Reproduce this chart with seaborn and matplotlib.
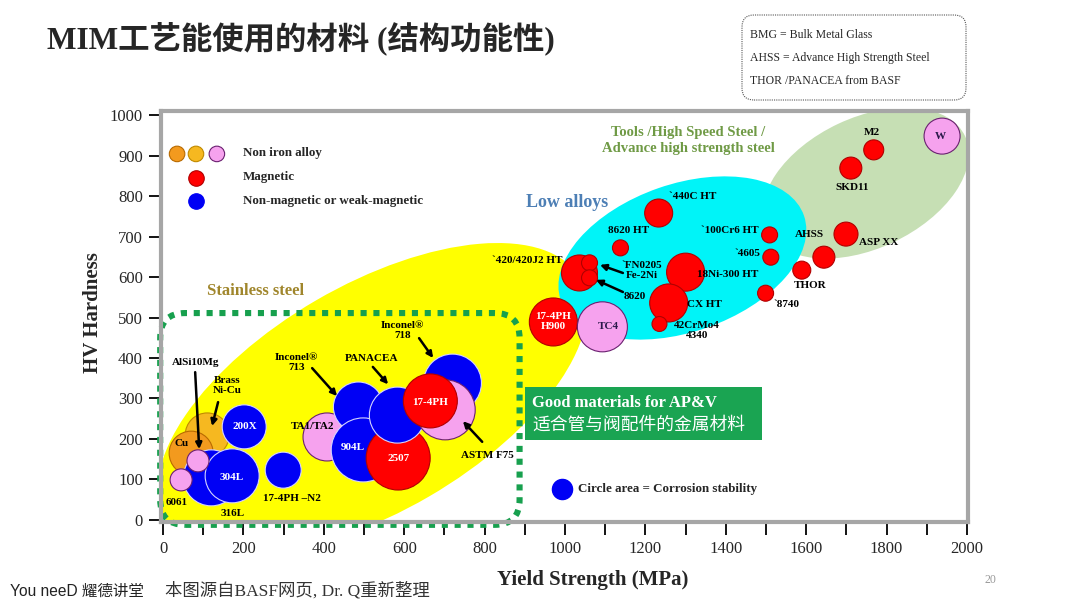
import numpy as np
import pandas as pd
import matplotlib
matplotlib.use("Agg")
import matplotlib.pyplot as plt
import seaborn as sns
from matplotlib.patches import Ellipse, FancyBboxPatch, Rectangle

# ---------------- data ----------------
names = ["Brass Ni-Cu", "Cu", "316L", "304L", "AlSi10Mg", "6061", "200X", "17-4PH-N2",
         "TA1/TA2", "Inconel 713", "904L", "2507", "PANACEA", "Inconel 718", "ASTM F75",
         "17-4PH", "17-4PH H900", "TC4", "420/420J2 HT", "FN0205 Fe-2Ni", "8620", "8620 HT",
         "440C HT", "18Ni-300 HT", "CX HT", "42CrMo4 4340", "100Cr6 HT", "4605", "8740",
         "THOR", "AHSS", "ASP XX", "SKD11", "M2", "W"]
yield_mpa = [110, 70, 120, 172, 87, 45, 202, 299,
             408, 486, 498, 585, 583, 720, 702,
             665, 971, 1093, 1036, 1061, 1061, 1138,
             1233, 1300, 1258, 1235, 1509, 1512, 1499,
             1589, 1644, 1699, 1711, 1768, 1938]
hardness = [210, 165, 104, 109, 146, 99, 230, 123,
            205, 279, 173, 153, 259, 338, 272,
            294, 489, 477, 610, 635, 598, 672,
            758, 612, 536, 484, 704, 649, 560,
            617, 649, 706, 869, 914, 948]
corrosion_area = [484, 484, 784, 729, 121, 121, 484, 324,
                  576, 625, 1024, 1024, 784, 841, 900,
                  729, 576, 625, 324, 64, 64, 64,
                  196, 361, 361, 56, 64, 64, 64,
                  81, 121, 144, 121, 100, 324]
group = ["brass", "cu", "blue", "blue", "pink", "pink", "blue", "blue",
         "pink", "blue", "blue", "red", "blue", "blue", "pink",
         "red", "red", "pink", "red", "red", "red", "red",
         "red", "red", "red", "red", "red", "red", "red",
         "red", "red", "red", "red", "red", "pink"]

group_colors = {"cu": "#f39a1e", "brass": "#f6b820", "pink": "#f6a2ee",
                "red": "#ff0000", "blue": "#0000f5"}
group_edges = {"cu": "#b86a00", "brass": "#c08a00", "pink": "#6a2070",
               "red": "#b00000", "blue": "#d4d4ff"}

x_ticks = list(range(0, 2001, 200))
y_ticks = list(range(0, 1001, 100))

df = pd.DataFrame({"name": names, "ys": yield_mpa, "hv": hardness,
                   "area": corrosion_area, "group": group})

# ---------------- style ----------------
sns.set_style("white")
plt.rcParams["font.family"] = ["Liberation Serif", "Noto Sans CJK SC"]

fig = plt.figure(figsize=(10.8, 6.08), dpi=100)
ax = fig.add_axes([161 / 1080, 1 - 522 / 608, (968 - 161) / 1080, (522 - 111) / 608])

# background region ellipses
ax.add_patch(Ellipse((521, 300), 1191, 560, angle=30, facecolor="#ffff00", edgecolor="none", zorder=1))
ax.add_patch(Ellipse((1748, 832), 546, 323, angle=25, facecolor="#c6dfb4", edgecolor="none", zorder=1))
ax.add_patch(Ellipse((1292, 647), 640, 365, angle=19, facecolor="#00f4f8", edgecolor="none", zorder=1.1))

# dotted green frame
ax.add_patch(FancyBboxPatch((-7, -12), 894, 523, boxstyle="round,pad=0,rounding_size=62",
                            facecolor="none", edgecolor="#17a04e", linewidth=4.4,
                            linestyle=(0, (1.0, 1.1)), clip_on=False, zorder=2))

# bubbles
maxA = max(corrosion_area)
edges = [group_edges[g] for g in group]
sns.scatterplot(data=df, x="ys", y="hv", hue="group", palette=group_colors,
                size="area", sizes=(0, 2.0736 * maxA), size_norm=(0, maxA),
                edgecolor=edges, linewidth=0.8, legend=False, ax=ax, zorder=3)

# labels
lbl_kw = dict(fontsize=8, fontweight="bold", ha="center", va="center", zorder=5)
dark = "black"
white = "white"
purple = "#2a1a4a"
labels = [
    ("AlSi10Mg", 80, 390, dark), ("Brass\nNi-Cu", 159, 333, dark), ("Cu", 47, 190, dark),
    ("200X", 204, 232, white), ("304L", 172, 106, white), ("6061", 35, 42, dark),
    ("316L", 174, 17, dark), ("17-4PH \u2013N2", 321, 52, dark), ("Inconel\u00ae\n713", 333, 388, dark),
    ("TA1/TA2", 371, 230, dark), ("904L", 473, 180, white), ("PANACEA", 520, 400, dark),
    ("2507", 585, 153, white), ("17-4PH", 664, 291, white), ("Inconel\u00ae\n718", 595, 467, dark),
    ("ASTM F75", 808, 160, dark), ("`420/420J2 HT", 905, 642, dark), ("17-4PH\nH900", 970, 489, white),
    ("TC4", 1107, 479, purple), ("`440C HT", 1318, 798, dark), ("8620 HT", 1157, 714, dark),
    ("`100Cr6 HT", 1410, 714, dark), ("`4605", 1455, 659, dark), ("`FN0205\nFe-2Ni", 1192, 615, dark),
    ("8620", 1174, 551, dark), ("18Ni-300 HT", 1405, 607, dark), ("CX HT", 1348, 533, dark),
    ("42CrMo4\n4340", 1328, 469, dark), ("`8740", 1552, 533, dark), ("THOR", 1609, 578, dark),
    ("AHSS", 1609, 704, dark), ("ASP XX", 1779, 686, dark), ("SKD11", 1714, 822, dark),
    ("M2", 1764, 958, dark), ("W", 1933, 946, purple),
]
for t, lx, ly, c in labels:
    ax.text(lx, ly, t, color=c, linespacing=1.15, **lbl_kw)

# arrows
arrows = [((80, 365), (90, 175)), ((137, 291), (122, 232)), ((371, 375), (433, 306)),
          ((522, 378), (560, 335)), ((637, 449), (672, 400)), ((794, 193), (746, 244)),
          ((1144, 610), (1087, 630)), ((1144, 563), (1077, 593))]
for (sx, sy), (ex, ey) in arrows:
    ax.annotate("", xy=(ex, ey), xytext=(sx, sy), zorder=6,
                arrowprops=dict(arrowstyle="-|>", color="black", lw=1.8, mutation_scale=9,
                                shrinkA=0, shrinkB=0))

# group headers
ax.text(231, 565, "Stainless steel", color="#a0862c", fontsize=12, fontweight="bold",
        ha="center", va="center", zorder=5)
ax.text(1005, 785, "Low alloys", color="#4d7fb5", fontsize=13, fontweight="bold",
        ha="center", va="center", zorder=5)
ax.text(1306, 936, "Tools /High Speed Steel /\nAdvance high strength steel", color="#6f9a45",
        fontsize=10.5, fontweight="bold", ha="center", va="center", linespacing=1.3, zorder=5)

# top-left legend
ax.scatter([35, 82, 134], [904, 904, 904], s=125, c=["#f39a1e", "#f6b820", "#f6a2ee"],
           edgecolors=["#b86a00", "#c08a00", "#6a2070"], linewidths=0.8, zorder=5)
ax.scatter([82], [844], s=125, c="#ff0000", edgecolors="#b00000", linewidths=0.8, zorder=5)
ax.scatter([82], [788], s=125, c="#0000f5", edgecolors="#0000f5", linewidths=0.8, zorder=5)
for t, ly in [("Non iron alloy", 906), ("Magnetic", 847), ("Non-magnetic or weak-magnetic", 788)]:
    ax.text(199, ly, t, fontsize=9.4, fontweight="bold", ha="left", va="center", zorder=5)

# AP&V box
ax.add_patch(Rectangle((900, 198), 590, 130, facecolor="#1aa452", edgecolor="none", zorder=6))
ax.text(918, 289, "Good materials for AP&V", color="white", fontsize=12, fontweight="bold",
        ha="left", va="center", zorder=7)
ax.text(918, 236, "适合管与阀配件的金属材料", color="white", fontsize=12.8,
        family=["Noto Sans CJK SC"], ha="left", va="center", zorder=7)

# circle-area legend
ax.scatter([993], [77], s=210, c="#0000f5", edgecolors="#0000f5", zorder=5)
ax.text(1032, 77, "Circle area = Corrosion stability", fontsize=9.4, fontweight="bold",
        ha="left", va="center", zorder=5)

# axes styling
ax.set_xlim(-5, 2002.5)
ax.set_ylim(-5, 1010)
ax.set_xticks(x_ticks)
ax.set_xticks(list(range(0, 2001, 100)), minor=True)
ax.set_yticks(y_ticks)
ax.tick_params(axis="both", which="both", direction="out", length=9, width=1.3,
               color="black", labelsize=12, bottom=True, left=True)
ax.tick_params(axis="x", pad=5)
ax.tick_params(axis="y", pad=4)
for sp in ax.spines.values():
    sp.set_color("#a6a6a6")
    sp.set_linewidth(3)
    sp.set_visible(True)

ax.set_xlabel("Yield Strength (MPa)", fontsize=15, fontweight="bold")
ax.xaxis.set_label_coords((593 - 161) / 807, (522 - 580) / 411)
ax.xaxis.label.set_va("center")
ax.set_ylabel("HV Hardness", fontsize=15, fontweight="bold")
ax.yaxis.set_label_coords((93 - 161) / 807, (522 - 313) / 411)
ax.yaxis.label.set_va("center")

# title and slide texts
fig.text(47 / 1080, 1 - 38 / 608, "MIM工艺能使用的材料 (结构功能性)", fontsize=22.6, fontweight="bold",
         family=["Liberation Serif", "Noto Sans CJK SC"], ha="left", va="center")

note = FancyBboxPatch((742 / 100, (608 - 100) / 100), 224 / 100, 85 / 100,
                      boxstyle="round,pad=0,rounding_size=0.12", transform=fig.dpi_scale_trans,
                      facecolor="white", edgecolor="#555555", linewidth=0.8, linestyle=(0, (1, 1)))
fig.patches.append(note)
for t, py in [("BMG = Bulk Metal Glass", 35), ("AHSS = Advance High Strength Steel", 58),
              ("THOR /PANACEA from BASF", 81)]:
    fig.text(750 / 1080, 1 - py / 608, t, fontsize=8.5, ha="left", va="center")

fig.text(10 / 1080, 1 - 591 / 608, "You neeD 耀德讲堂", fontsize=11.2,
         family=["Liberation Sans", "Noto Sans CJK SC"], ha="left", va="center", color="#222222")
fig.text(165 / 1080, 1 - 591 / 608, "本图源自BASF网页, Dr. Q重新整理", fontsize=12.5,
         family=["Liberation Serif", "Noto Sans CJK SC"], ha="left", va="center", color="#333333")
fig.text(990 / 1080, 1 - 580 / 608, "20", fontsize=8.5, color="#999999", ha="center", va="center")

fig.savefig("out.png", dpi=100, facecolor="white")
